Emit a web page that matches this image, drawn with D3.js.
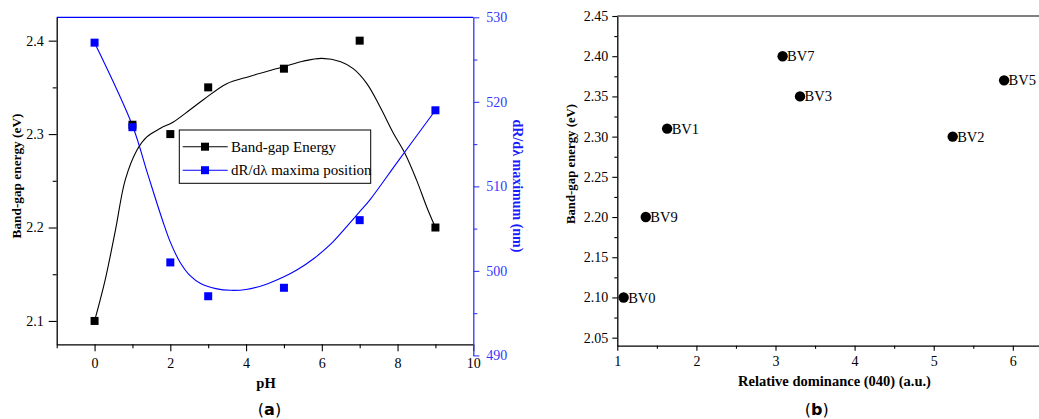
<!DOCTYPE html>
<html><head><meta charset="utf-8">
<script src="https://cdn.jsdelivr.net/npm/d3@7"></script>
<style>body{margin:0;background:#fff}svg{display:block}</style>
</head><body>
<svg id="c" width="1039" height="419"></svg>
<script>
// ---- Panel (a) data ----
const pH = [0, 1, 2, 3, 5, 7, 9];
const bandGap = [2.10, 2.31, 2.30, 2.35, 2.37, 2.40, 2.20];
const dRmax = [527, 517, 501, 497, 498, 506, 519];
// fitted curves [pH, value]
const bandGapFit = [[0,2.100],[0.28,2.144],[0.55,2.197],[0.81,2.251],[1.12,2.283],[1.38,2.297],[1.73,2.306],[2.08,2.313],[2.52,2.326],[2.88,2.337],[3.49,2.354],[4.11,2.362],[4.99,2.372],[5.5,2.378],[6.0,2.381],[6.5,2.3775],[6.83,2.370],[7.19,2.354],[7.54,2.329],[7.89,2.301],[8.2,2.279],[8.5,2.251],[8.77,2.222],[9.0,2.200]];
const dRmaxFit = [[0,527],[1,517.2],[1.4,511.5],[1.8,505.9],[2.0,503.4],[2.26,501.0],[2.53,499.4],[2.8,498.5],[3.2,497.9],[3.6,497.7],[4.0,497.8],[4.46,498.3],[5.0,499.3],[5.34,500.1],[5.8,501.5],[6.22,503.1],[6.57,504.8],[7.0,507.0],[7.27,508.4],[8.0,512.9],[9,519]];
const xTicksA = [0, 2, 4, 6, 8, 10];
const yTicksA = [2.1, 2.2, 2.3, 2.4];
const yTicksR = [490, 500, 510, 520, 530];
const legendLabels = ["Band-gap Energy", "dR/d\u03bb maxima position"];

// ---- Panel (b) data ----
const samples = ["BV0", "BV9", "BV1", "BV7", "BV3", "BV2", "BV5"];
const dominance = [1.08, 1.36, 1.63, 3.09, 3.31, 5.24, 5.89];
const energyB = [2.10, 2.20, 2.31, 2.40, 2.35, 2.30, 2.37];
const xTicksB = [1, 2, 3, 4, 5, 6];
const yTicksB = [2.05, 2.10, 2.15, 2.20, 2.25, 2.30, 2.35, 2.40, 2.45];

const svg = d3.select("#c");
const serif = "'Liberation Serif','Times New Roman',serif";
const BLUE = "#0000ff", LBLUE = "#3636ff";

// ================= Panel (a) =================
const xA = d3.scaleLinear().domain([-1, 10]).range([56.7, 473.3]);
const yA = d3.scaleLinear().domain([2.075, 2.425]).range([344.3, 17.3]);
const yR = d3.scaleLinear().domain([490, 530]).range([355.4, 17.3]);

const gA = svg.append("g");
// top border (blue)
gA.append("line").attr("x1", xA(-1)).attr("x2", xA(10)).attr("y1", yA(2.425)).attr("y2", yA(2.425))
  .attr("stroke", BLUE).attr("stroke-width", 1.2);

function styleAxis(g, color, fs) {
  g.select(".domain").attr("stroke", color).attr("stroke-width", 1.3);
  g.selectAll(".tick line").attr("stroke", color).attr("stroke-width", 1.1);
  g.selectAll("text").attr("fill", color).style("font-family", serif).style("font-size", fs + "px");
}

// bottom axis
const axBA = gA.append("g").attr("transform", `translate(0,${yA(2.075)})`)
  .call(d3.axisBottom(xA).tickValues(xTicksA).tickFormat(d3.format("d")).tickSize(7).tickSizeOuter(0).tickPadding(7));
styleAxis(axBA, "#000", 14);
gA.append("g").attr("transform", `translate(0,${yA(2.075)})`)
  .call(d3.axisBottom(xA).tickValues([-1,1,3,5,7,9]).tickFormat("").tickSize(4).tickSizeOuter(0))
  .call(g => { g.select(".domain").remove(); g.selectAll("line").attr("stroke","#000").attr("stroke-width",1.1); });

// left axis
const axLA = gA.append("g").attr("transform", `translate(${xA(-1)},0)`)
  .call(d3.axisLeft(yA).tickValues(yTicksA).tickFormat(d3.format(".1f")).tickSize(8).tickSizeOuter(0).tickPadding(5));
styleAxis(axLA, "#000", 14);
gA.append("g").attr("transform", `translate(${xA(-1)},0)`)
  .call(d3.axisLeft(yA).tickValues([2.15,2.25,2.35]).tickFormat("").tickSize(4).tickSizeOuter(0))
  .call(g => { g.select(".domain").remove(); g.selectAll("line").attr("stroke","#000").attr("stroke-width",1.1); });

// right axis (blue)
const axRA = gA.append("g").attr("transform", `translate(${xA(10)},0)`)
  .call(d3.axisRight(yR).tickValues(yTicksR).tickFormat(d3.format("d")).tickSize(6).tickSizeOuter(0).tickPadding(7));
styleAxis(axRA, LBLUE, 14);
gA.append("g").attr("transform", `translate(${xA(10)},0)`)
  .call(d3.axisRight(yR).tickValues([495,505,515,525]).tickFormat("").tickSize(4).tickSizeOuter(0))
  .call(g => { g.select(".domain").remove(); g.selectAll("line").attr("stroke",LBLUE).attr("stroke-width",1.1); });

// curves
const lineA = d3.line().x(d => xA(d[0])).y(d => yA(d[1])).curve(d3.curveCatmullRom.alpha(0.5));
const lineR = d3.line().x(d => xA(d[0])).y(d => yR(d[1])).curve(d3.curveCatmullRom.alpha(0.5));
gA.append("path").attr("d", lineA(bandGapFit)).attr("fill", "none").attr("stroke", "#000").attr("stroke-width", 1.1);
gA.append("path").attr("d", lineR(dRmaxFit)).attr("fill", "none").attr("stroke", BLUE).attr("stroke-width", 1.1);

const S = 8;
gA.selectAll(".bg").data(pH).enter().append("rect")
  .attr("x", (d) => xA(d) - S/2).attr("y", (d, i) => yA(bandGap[i]) - S/2)
  .attr("width", S).attr("height", S).attr("fill", "#000");
gA.selectAll(".dr").data(pH).enter().append("rect")
  .attr("x", (d) => xA(d) - S/2).attr("y", (d, i) => yR(dRmax[i]) - S/2)
  .attr("width", S).attr("height", S).attr("fill", BLUE);

// legend
const lg = gA.append("g");
lg.append("rect").attr("x", 179.3).attr("y", 130).attr("width", 191.4).attr("height", 53.3)
  .attr("fill", "#fff").attr("stroke", "#000").attr("stroke-width", 1);
legendLabels.forEach((t, i) => {
  const y = 146.7 + i * 23.5, c = i === 0 ? "#000" : BLUE;
  lg.append("line").attr("x1", 182.7).attr("x2", 227.7).attr("y1", y).attr("y2", y).attr("stroke", c).attr("stroke-width", 1.1);
  lg.append("rect").attr("x", 205 - S/2).attr("y", y - S/2).attr("width", S).attr("height", S).attr("fill", c);
  lg.append("text").attr("x", 231).attr("y", y).attr("dy", "0.35em").text(t)
    .style("font-family", serif).style("font-size", "15px").attr("fill", "#000");
});

// axis titles (a)
gA.append("text").attr("transform", `translate(21,176) rotate(-90)`).attr("text-anchor", "middle")
  .text("Band-gap energy (eV)").style("font-family", serif).style("font-size", "13.3px").style("font-weight", "bold");
gA.append("text").attr("transform", `translate(513,186) rotate(90)`).attr("text-anchor", "middle")
  .text("dR/d\u03bb maximum (nm)").style("font-family", serif).style("font-size", "14px").style("font-weight", "bold").attr("fill", "#1a1aff");
gA.append("text").attr("x", 266).attr("y", 387.5).attr("text-anchor", "middle")
  .text("pH").style("font-family", serif).style("font-size", "14.5px").style("font-weight", "bold");
const capA = gA.append("text").attr("x", 269.5).attr("y", 415).attr("text-anchor", "middle")
  .style("font-family", "'DejaVu Sans',sans-serif").style("font-size", "16px");
capA.append("tspan").text("(");
capA.append("tspan").text("a").style("font-weight", "bold");
capA.append("tspan").text(")");

// ================= Panel (b) =================
const xB = d3.scaleLinear().domain([1, 6.35]).range([617.3, 1040.5]);
const yB = d3.scaleLinear().domain([2.04, 2.45]).range([345.7, 16]);
const gB = svg.append("g");

gB.append("line").attr("x1", xB(1)).attr("x2", 1039).attr("y1", yB(2.45)).attr("y2", yB(2.45))
  .attr("stroke", "#000").attr("stroke-width", 1.2);

const axBB = gB.append("g").attr("transform", `translate(0,${yB(2.04)})`)
  .call(d3.axisBottom(xB).tickValues(xTicksB).tickFormat(d3.format("d")).tickSize(5).tickSizeOuter(0).tickPadding(5));
styleAxis(axBB, "#000", 14);
gB.append("g").attr("transform", `translate(0,${yB(2.04)})`)
  .call(d3.axisBottom(xB).tickValues([1.5,2.5,3.5,4.5,5.5]).tickFormat("").tickSize(3).tickSizeOuter(0))
  .call(g => { g.select(".domain").remove(); g.selectAll("line").attr("stroke","#000").attr("stroke-width",1.1); });

const axLB = gB.append("g").attr("transform", `translate(${xB(1)},0)`)
  .call(d3.axisLeft(yB).tickValues(yTicksB).tickFormat(d3.format(".2f")).tickSize(5).tickSizeOuter(0).tickPadding(4));
styleAxis(axLB, "#000", 14);
gB.append("g").attr("transform", `translate(${xB(1)},0)`)
  .call(d3.axisLeft(yB).tickValues([2.075,2.125,2.175,2.225,2.275,2.325,2.375,2.425]).tickFormat("").tickSize(3).tickSizeOuter(0))
  .call(g => { g.select(".domain").remove(); g.selectAll("line").attr("stroke","#000").attr("stroke-width",1.1); });

gB.selectAll(".pt").data(samples).enter().append("circle")
  .attr("cx", (d, i) => xB(dominance[i])).attr("cy", (d, i) => yB(energyB[i])).attr("r", 5.2).attr("fill", "#000");
gB.selectAll(".lb").data(samples).enter().append("text")
  .attr("x", (d, i) => xB(dominance[i]) + 4.5).attr("y", (d, i) => yB(energyB[i])).attr("dy", "0.35em")
  .text(d => d).style("font-family", serif).style("font-size", "14.5px");

gB.append("text").attr("transform", `translate(575,164) rotate(-90)`).attr("text-anchor", "middle")
  .text("Band-gap energy (eV)").style("font-family", serif).style("font-size", "12.8px").style("font-weight", "bold");
gB.append("text").attr("x", 834.5).attr("y", 386).attr("text-anchor", "middle")
  .text("Relative dominance (040) (a.u.)").style("font-family", serif).style("font-size", "14.5px").style("font-weight", "bold");
const capB = gB.append("text").attr("x", 816.7).attr("y", 415).attr("text-anchor", "middle")
  .style("font-family", "'DejaVu Sans',sans-serif").style("font-size", "16px");
capB.append("tspan").text("(");
capB.append("tspan").text("b").style("font-weight", "bold");
capB.append("tspan").text(")");
</script>
</body></html>
